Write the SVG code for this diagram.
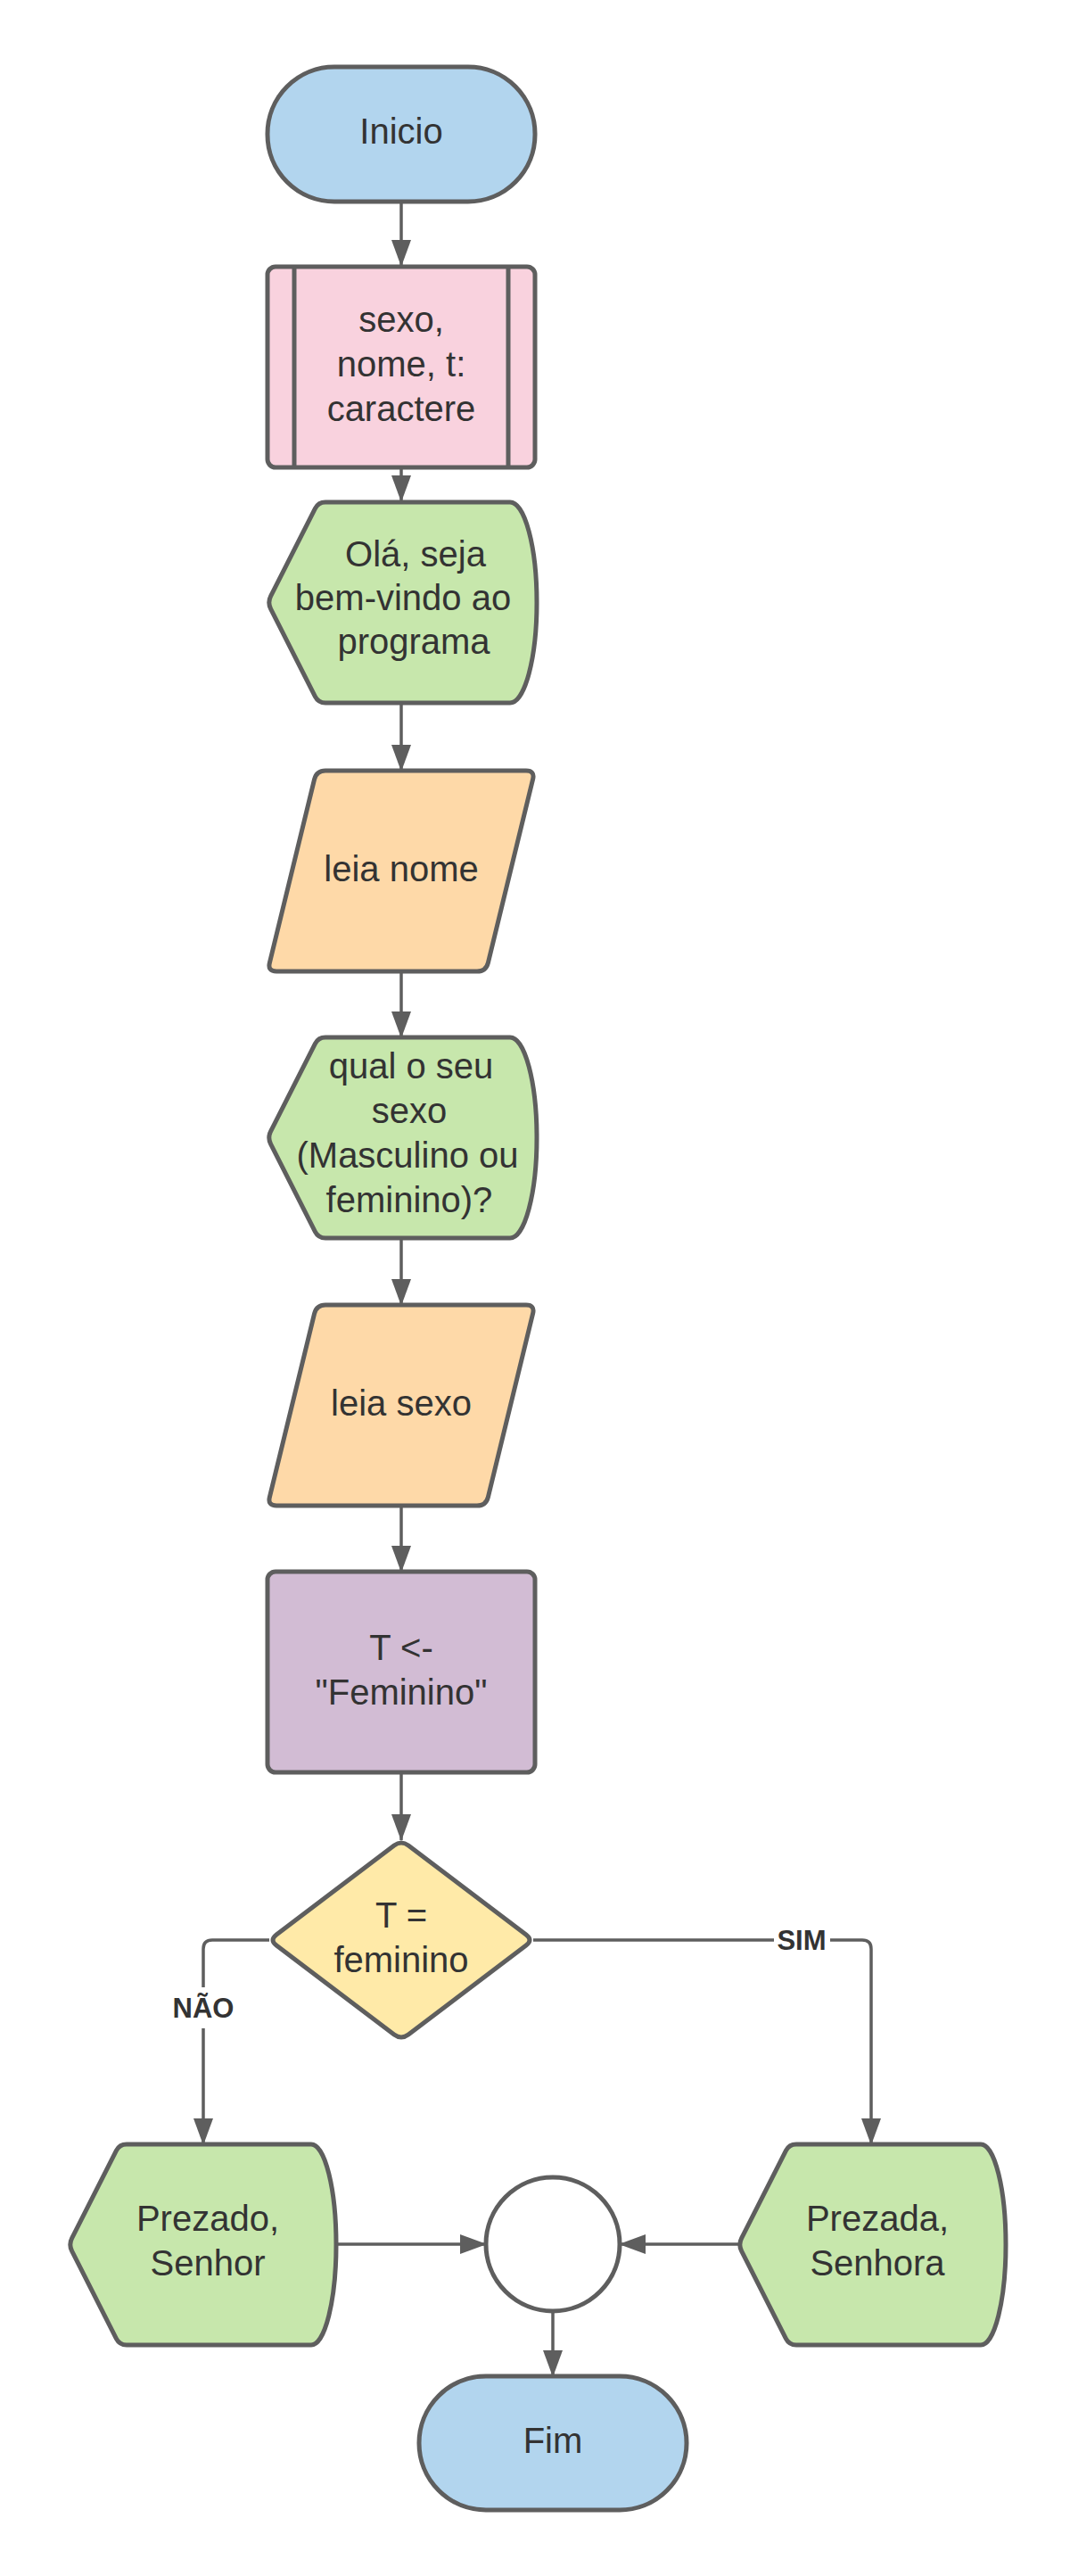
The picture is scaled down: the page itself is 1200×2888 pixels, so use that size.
<svg xmlns="http://www.w3.org/2000/svg" width="1200" height="2888" viewBox="0 0 1200 2888">
<style>
.n{stroke:#5e5e5e;stroke-width:5;stroke-linejoin:round}
.t{font-family:"Liberation Sans",Arial,sans-serif;font-size:40px;fill:#333333;text-anchor:middle}
.c{fill:none;stroke:#5e5e5e;stroke-width:3.5}
.lbl{font-family:"Liberation Sans",Arial,sans-serif;font-size:31px;font-weight:bold;fill:#333333;text-anchor:middle}
.blue{fill:#b2d5ee}.pink{fill:#f9d2de}.green{fill:#c7e7ac}.orange{fill:#fed9a8}.purple{fill:#d2bcd4}.yellow{fill:#ffeaa8}
</style>
<defs>
<marker id="ah" markerUnits="userSpaceOnUse" markerWidth="30" markerHeight="22" refX="29" refY="11" orient="auto">
<path d="M0,0 L30,11 L0,22 Z" fill="#5e5e5e"/>
</marker>
</defs>
<rect width="1200" height="2888" fill="#ffffff"/>

<g id="connectors">
<line class="c" x1="450" y1="226" x2="450" y2="298" marker-end="url(#ah)"/>
<line class="c" x1="450" y1="524" x2="450" y2="562" marker-end="url(#ah)"/>
<line class="c" x1="450" y1="788" x2="450" y2="864" marker-end="url(#ah)"/>
<g transform="translate(0,4)">
<line class="c" x1="450" y1="1085" x2="450" y2="1159" marker-end="url(#ah)"/>
<line class="c" x1="450" y1="1384" x2="450" y2="1459" marker-end="url(#ah)"/>
<line class="c" x1="450" y1="1684" x2="450" y2="1758" marker-end="url(#ah)"/>
<line class="c" x1="450" y1="1983" x2="450" y2="2059" marker-end="url(#ah)"/>
<path class="c" d="M302,2171 H238 Q228,2171 228,2181 V2400" marker-end="url(#ah)"/>
<path class="c" d="M598,2171 H967 Q977,2171 977,2181 V2400" marker-end="url(#ah)"/>
<line class="c" x1="377" y1="2512" x2="545" y2="2512" marker-end="url(#ah)"/>
<line class="c" x1="828" y1="2512" x2="695" y2="2512" marker-end="url(#ah)"/>
<line class="c" x1="620" y1="2587" x2="620" y2="2660" marker-end="url(#ah)"/>
<rect x="200" y="2224" width="58" height="46" fill="#ffffff"/>
<text class="lbl" x="228" y="2258">NÃO</text>
<rect x="868" y="2154" width="63" height="34" fill="#ffffff"/>
<text class="lbl" x="899" y="2182">SIM</text>
</g>
</g>

<g id="inicio">
<rect class="n blue" x="300" y="75" width="300" height="151" rx="75" ry="75"/>
<text class="t" x="450" y="161">Inicio</text>
</g>

<g id="declaracao">
<rect class="n pink" x="300" y="299" width="300" height="225" rx="9" ry="9"/>
<line class="n" x1="330" y1="299" x2="330" y2="524"/>
<line class="n" x1="570" y1="299" x2="570" y2="524"/>
<text class="t" x="450" y="372">sexo,</text>
<text class="t" x="450" y="422">nome, t:</text>
<text class="t" x="450" y="472">caractere</text>
</g>

<g id="boas-vindas" transform="translate(0,2)">
<path class="n green" d="M365,561 H572 A30,112.5 0 0 1 572,786 H365 Q357,786 353.4,778.9 L303.6,680.6 Q300,673.5 303.6,666.4 L353.4,568.1 Q357,561 365,561 Z"/>
<text class="t" x="466" y="633">Olá, seja</text>
<text class="t" x="452" y="682">bem-vindo ao</text>
<text class="t" x="464" y="731">programa</text>
</g>

<g id="leia-nome" transform="translate(0,4)">
<path class="n orange" d="M365,860 H590 Q600,860 597.6,869.7 L547.4,1075.3 Q545,1085 535,1085 H310 Q300,1085 302.4,1075.3 L352.6,869.7 Q355,860 365,860 Z"/>
<text class="t" x="450" y="984">leia nome</text>
</g>

<g id="pergunta-sexo" transform="translate(0,4)">
<path class="n green" d="M365,1159 H572 A30,112.5 0 0 1 572,1384 H365 Q357,1384 353.4,1376.9 L303.6,1278.6 Q300,1271.5 303.6,1264.4 L353.4,1166.1 Q357,1159 365,1159 Z"/>
<text class="t" x="461" y="1205">qual o seu</text>
<text class="t" x="459" y="1255">sexo</text>
<text class="t" x="457" y="1305">(Masculino ou</text>
<text class="t" x="459" y="1355">feminino)?</text>
</g>

<g id="leia-sexo" transform="translate(0,4)">
<path class="n orange" d="M365,1459 H590 Q600,1459 597.6,1468.7 L547.4,1674.3 Q545,1684 535,1684 H310 Q300,1684 302.4,1674.3 L352.6,1468.7 Q355,1459 365,1459 Z"/>
<text class="t" x="450" y="1583">leia sexo</text>
</g>

<g id="atribuicao" transform="translate(0,4)">
<rect class="n purple" x="300" y="1758" width="300" height="225" rx="9" ry="9"/>
<text class="t" x="450" y="1857">T &lt;-</text>
<text class="t" x="450" y="1907">"Feminino"</text>
</g>

<g id="decisao" transform="translate(0,4)">
<path class="n yellow" d="M442,2065 Q450,2059 458,2065 L590,2165 Q598,2171 590,2177 L458,2277 Q450,2283 442,2277 L310,2177 Q302,2171 310,2165 Z"/>
<text class="t" x="450" y="2157">T =</text>
<text class="t" x="450" y="2207">feminino</text>
</g>

<g id="prezado" transform="translate(0,4)">
<path class="n green" d="M142,2400 H349 A28,112.5 0 0 1 349,2625 H142 Q134,2625 130.4,2617.9 L80.6,2519.6 Q77,2512.5 80.6,2505.4 L130.4,2407.1 Q134,2400 142,2400 Z"/>
<text class="t" x="233" y="2497">Prezado,</text>
<text class="t" x="233" y="2547">Senhor</text>
</g>

<g id="prezada" transform="translate(0,4)">
<path class="n green" d="M893,2400 H1100 A28,112.5 0 0 1 1100,2625 H893 Q885,2625 881.4,2617.9 L831.6,2519.6 Q828,2512.5 831.6,2505.4 L881.4,2407.1 Q885,2400 893,2400 Z"/>
<text class="t" x="984" y="2497">Prezada,</text>
<text class="t" x="984" y="2547">Senhora</text>
</g>

<g id="juncao" transform="translate(0,4)">
<circle class="n" cx="620" cy="2512" r="75" fill="#ffffff"/>
</g>

<g id="fim" transform="translate(0,4)">
<rect class="n blue" x="470" y="2660" width="300" height="150" rx="75" ry="75"/>
<text class="t" x="620" y="2746">Fim</text>
</g>
</svg>
